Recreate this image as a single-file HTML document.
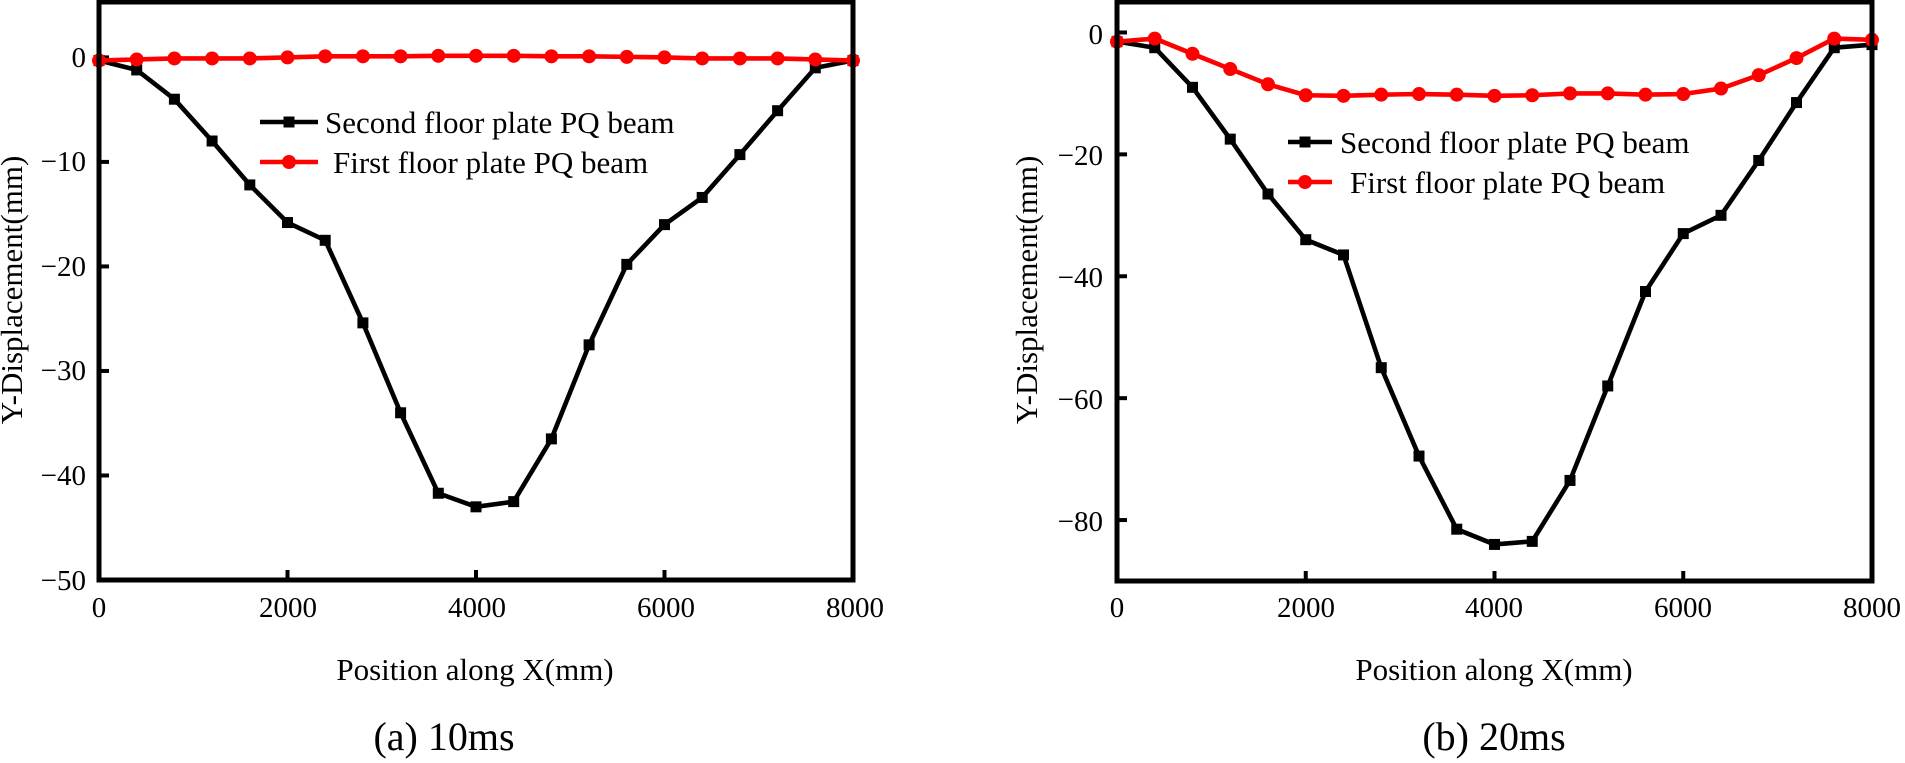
<!DOCTYPE html>
<html><head><meta charset="utf-8"><style>
html,body{margin:0;padding:0;background:#fff;}
svg{display:block;font-family:"Liberation Serif",serif;}
</style></head><body>
<svg id="s" width="1905" height="763" xmlns="http://www.w3.org/2000/svg">
<g font-size="29" text-anchor="end">
<text x="86" y="67">0</text><text x="86" y="171">−10</text><text x="86" y="276">−20</text><text x="86" y="380">−30</text><text x="86" y="485">−40</text><text x="86" y="590">−50</text>
<text x="1103" y="44">0</text><text x="1103" y="165">−20</text><text x="1103" y="287">−40</text><text x="1103" y="409">−60</text><text x="1103" y="531">−80</text>
</g>
<g font-size="29" text-anchor="middle">
<text x="99" y="617">0</text><text x="288" y="617">2000</text><text x="477" y="617">4000</text><text x="666" y="617">6000</text><text x="855" y="617">8000</text>
<text x="1117" y="617">0</text><text x="1306" y="617">2000</text><text x="1494" y="617">4000</text><text x="1683" y="617">6000</text><text x="1872" y="617">8000</text>
</g>
<g font-size="31" text-anchor="middle">
<text x="475" y="680">Position along X(mm)</text>
<text x="1494" y="680">Position along X(mm)</text>
<text transform="translate(22,290) rotate(-90)">Y-Displacement(mm)</text>
<text transform="translate(1037,290) rotate(-90)">Y-Displacement(mm)</text>
</g>
<g font-size="40" text-anchor="middle">
<text x="444" y="750">(a) 10ms</text>
<text x="1494" y="750">(b) 20ms</text>
</g>
<g font-size="31">
<text x="325" y="133">Second floor plate PQ beam</text>
<text x="333" y="173">First floor plate PQ beam</text>
<text x="1340" y="153">Second floor plate PQ beam</text>
<text x="1350" y="193">First floor plate PQ beam</text>
</g>
<g id="g"></g>
</svg>
<script>
var g=document.getElementById('g'),NS='http://www.w3.org/2000/svg';
function el(t,a){var e=document.createElementNS(NS,t);for(var k in a)e.setAttribute(k,a[k]);g.appendChild(e);return e;}
function plot(x0,x1,yt,yb,vt,vb,ticks,s2,s1){
 var X=function(v){return x0+(x1-x0)*v/8000},Y=function(v){return yt+(yb-yt)*(vt-v)/(vt-vb)};
 for(var i=1;i<4;i++){var tx=X(i*2000);el('line',{x1:tx,x2:tx,y1:yb,y2:yb-10,stroke:'#000','stroke-width':4});}
 ticks.forEach(function(v){var ty=Y(v);el('line',{x1:x0,x2:x0+10,y1:ty,y2:ty,stroke:'#000','stroke-width':4});});
 function series(d,c,sq){var p=d.map(function(v,i){return X(i*400)+','+Y(v)}).join(' ');
  el('polyline',{points:p,fill:'none',stroke:c,'stroke-width':4.6,'stroke-linejoin':'round'});
  d.forEach(function(v,i){var x=X(i*400),y=Y(v);if(sq)el('rect',{x:x-5.5,y:y-5.5,width:11,height:11,fill:c});else el('circle',{cx:x,cy:y,r:7,fill:c});});}
 series(s2,'#000',true);series(s1,'#f00',false);
 el('rect',{x:x0,y:yt,width:x1-x0,height:yb-yt,fill:'none',stroke:'#000','stroke-width':5});
}
plot(99,853,2,580,5.3,-50,[0,-10,-20,-30,-40],
[-0.3,-1.2,-4,-8,-12.2,-15.8,-17.5,-25.4,-34,-41.7,-43,-42.5,-36.5,-27.5,-19.8,-16,-13.4,-9.3,-5.1,-1,-0.3],
[-0.3,-0.2,-0.1,-0.1,-0.1,0,0.1,0.1,0.1,0.15,0.15,0.15,0.1,0.1,0.05,0,-0.1,-0.1,-0.1,-0.2,-0.3]);
plot(1117,1872,2,581,5,-90,[0,-20,-40,-60,-80],
[-1.5,-2.5,-9,-17.5,-26.5,-34,-36.5,-55,-69.5,-81.5,-84,-83.5,-73.5,-58,-42.5,-33,-30,-21,-11.5,-2.5,-2],
[-1.5,-1,-3.5,-6,-8.5,-10.3,-10.4,-10.2,-10.1,-10.2,-10.4,-10.3,-10,-10,-10.2,-10.1,-9.2,-7,-4.2,-1,-1.2]);
el('line',{x1:260,x2:318,y1:122,y2:122,stroke:'#000','stroke-width':4.6});el('rect',{x:283.5,y:116.5,width:11,height:11,fill:'#000'});
el('line',{x1:260,x2:318,y1:162,y2:162,stroke:'#f00','stroke-width':4.6});el('circle',{cx:289,cy:162,r:7,fill:'#f00'});
el('line',{x1:1288,x2:1332,y1:142,y2:142,stroke:'#000','stroke-width':4.6});el('rect',{x:1299.5,y:136.5,width:11,height:11,fill:'#000'});
el('line',{x1:1288,x2:1332,y1:182,y2:182,stroke:'#f00','stroke-width':4.6});el('circle',{cx:1305,cy:182,r:7,fill:'#f00'});
</script>
</body></html>
